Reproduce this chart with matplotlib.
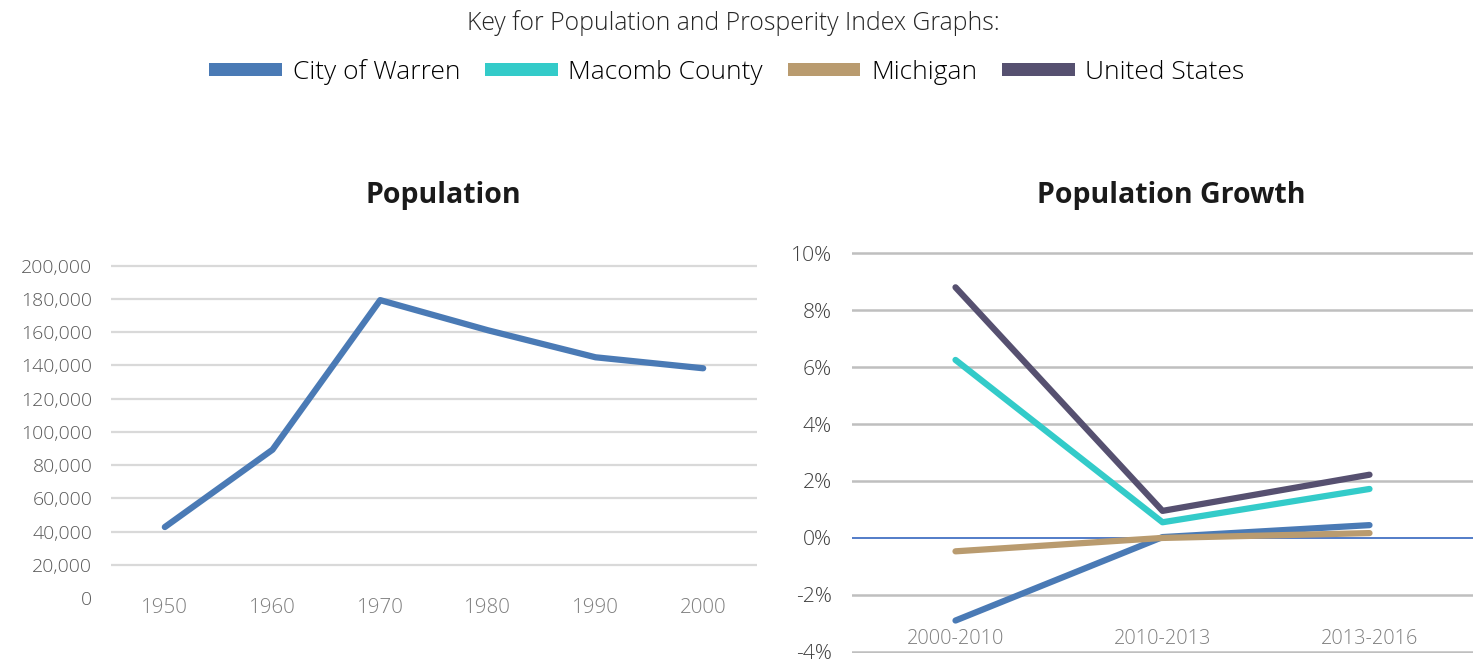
import matplotlib
matplotlib.use("Agg")
import matplotlib.pyplot as plt
from matplotlib.patches import Patch
from matplotlib.ticker import FuncFormatter

plt.rcParams['font.family'] = ['Open Sans', 'DejaVu Sans']

# data
years = ["1950", "1960", "1970", "1980", "1990", "2000"]
warren_pop = [42700, 89246, 179260, 161134, 144864, 138247]

periods = ["2000-2010", "2010-2013", "2013-2016"]
growth_warren = [-2.9, 0.03, 0.45]
growth_macomb = [6.25, 0.55, 1.72]
growth_michigan = [-0.47, 0.0, 0.17]
growth_us = [8.8, 0.95, 2.22]

series_names = ["City of Warren", "Macomb County", "Michigan", "United States"]
colors = ["#4a7ab5", "#33cbc9", "#b99b6f", "#565070"]

W, H = 1473, 662
fig = plt.figure(figsize=(W / 100, H / 100), dpi=100)

# key at the top
fig.text(733 / W, 1 - 23 / H, "Key for Population and Prosperity Index Graphs:",
         ha='center', va='center', fontsize=17.8, fontweight='light', color='#262626')
handles = [Patch(facecolor=c, edgecolor='none') for c in colors]
fig.legend(handles, series_names, loc='center', bbox_to_anchor=(727 / W, 1 - 72 / H),
           ncol=4, frameon=False, handlelength=2.75, handleheight=0.42,
           handletextpad=0.4, columnspacing=0.95,
           prop={'size': 19, 'weight': 'light'})

# left: population
ax1 = fig.add_axes([111 / W, (H - 598) / H, (757 - 111) / W, (598 - 264) / H])
x1 = range(len(years))
ax1.plot(x1, warren_pop, color=colors[0], lw=4.5, solid_capstyle='round', zorder=3)
ax1.set_xlim(-0.5, len(years) - 0.5)
ax1.set_ylim(0, 201000)
ax1.set_yticks(range(0, 200001, 20000))
ax1.yaxis.set_major_formatter(FuncFormatter(lambda v, p: f"{int(v):,}"))
ax1.set_xticks(list(x1))
ax1.set_xticklabels(years)
ax1.grid(axis='y', color='#d9d9d9', lw=1.6)
ax1.get_ygridlines()[0].set_visible(False)
ax1.set_axisbelow(True)
for s in ax1.spines.values():
    s.set_visible(False)
ax1.tick_params(axis='y', length=0, pad=13.5, labelsize=14, labelcolor='#595959')
ax1.tick_params(axis='x', length=0, pad=0, labelsize=14.8, labelcolor='#7f7f7f')
for lab in ax1.get_yticklabels() + ax1.get_xticklabels():
    lab.set_fontweight('light')
fig.text(443 / W, 1 - 196 / H, "Population", ha='center', va='center',
         fontsize=20.5, fontweight='bold', color='#1a1a1a')

# right: population growth
ax2 = fig.add_axes([852 / W, (H - 653) / H, (W - 852) / W, (653 - 252) / H])
x2 = range(len(periods))
for vals, c in zip([growth_warren, growth_macomb, growth_michigan, growth_us], colors):
    ax2.plot(x2, vals, color=c, lw=4.5, solid_capstyle='round', zorder=3)
ax2.set_xlim(-0.5, len(periods) - 0.5)
ax2.set_ylim(-4.04, 10.04)
ax2.set_yticks(range(-4, 11, 2))
ax2.yaxis.set_major_formatter(FuncFormatter(lambda v, p: f"{int(v)}%"))
ax2.set_xticks(list(x2))
ax2.set_xticklabels(periods)
ax2.grid(axis='y', color='#bfbfbf', lw=1.8)
ax2.get_ygridlines()[2].set_visible(False)
ax2.axhline(0, color='#4472c4', lw=1.3, zorder=2)
ax2.set_axisbelow(True)
for s in ax2.spines.values():
    s.set_visible(False)
ax2.tick_params(axis='y', length=0, pad=14.5, labelsize=15.2, labelcolor='#404040')
ax2.tick_params(axis='x', length=0, pad=-17, labelsize=14.3, labelcolor='#7f7f7f')
for lab in ax2.get_yticklabels() + ax2.get_xticklabels():
    lab.set_fontweight('light')
fig.text(1171 / W, 1 - 196 / H, "Population Growth", ha='center', va='center',
         fontsize=20.5, fontweight='bold', color='#1a1a1a')

fig.savefig("out.png", dpi=100)
